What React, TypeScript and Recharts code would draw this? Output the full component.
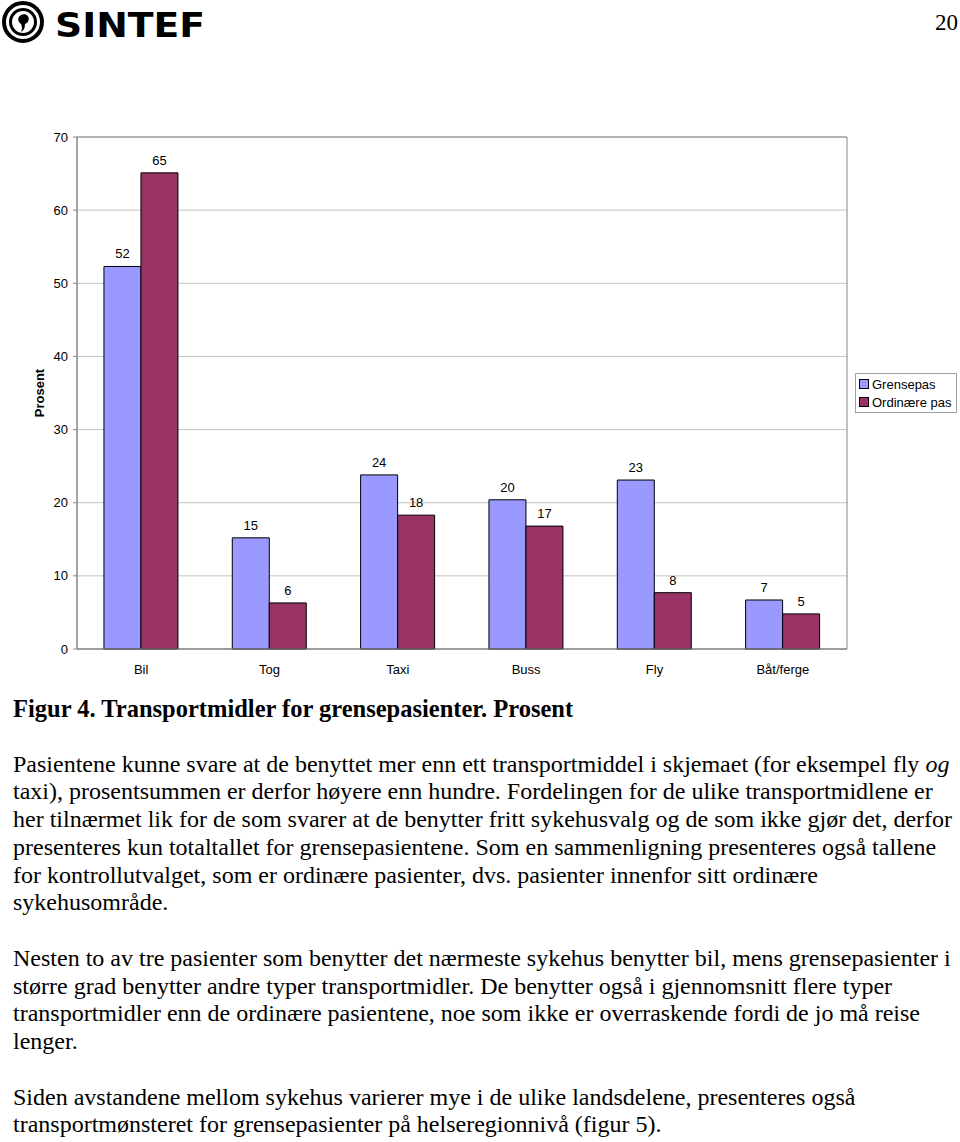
import { BarChart, Bar, XAxis, YAxis, CartesianGrid, LabelList, ReferenceArea } from 'recharts';

const categories = ['Bil', 'Tog', 'Taxi', 'Buss', 'Fly', 'Båt/ferge'];
const grensepas = [52.3, 15.2, 23.8, 20.4, 23.1, 6.7];
const ordinaerePas = [65.1, 6.3, 18.3, 16.8, 7.7, 4.8];
const yTicks = [0, 10, 20, 30, 40, 50, 60, 70];

const data = categories.map((name, i) => ({
  name,
  grensepas: grensepas[i],
  ordinaere: ordinaerePas[i],
}));

const BLUE = '#9999ff';
const MAROON = '#993366';
const AXIS = '#868686';
const sans = '"Liberation Sans", Arial, sans-serif';
const serif = '"Liberation Serif", "Times New Roman", serif';

const bodyLines = [
  { text: 'Figur 4. Transportmidler for grensepasienter. Prosent', bold: true },
  { text: '' },
  { text: 'Pasientene kunne svare at de benyttet mer enn ett transportmiddel i skjemaet (for eksempel fly ', italicTail: 'og' },
  { text: 'taxi), prosentsummen er derfor høyere enn hundre. Fordelingen for de ulike transportmidlene er' },
  { text: 'her tilnærmet lik for de som svarer at de benytter fritt sykehusvalg og de som ikke gjør det, derfor' },
  { text: 'presenteres kun totaltallet for grensepasientene. Som en sammenligning presenteres også tallene' },
  { text: 'for kontrollutvalget, som er ordinære pasienter, dvs. pasienter innenfor sitt ordinære' },
  { text: 'sykehusområde.' },
  { text: '' },
  { text: 'Nesten to av tre pasienter som benytter det nærmeste sykehus benytter bil, mens grensepasienter i' },
  { text: 'større grad benytter andre typer transportmidler. De benytter også i gjennomsnitt flere typer' },
  { text: 'transportmidler enn de ordinære pasientene, noe som ikke er overraskende fordi de jo må reise' },
  { text: 'lenger.' },
  { text: '' },
  { text: 'Siden avstandene mellom sykehus varierer mye i de ulike landsdelene, presenteres også' },
  { text: 'transportmønsteret for grensepasienter på helseregionnivå (figur 5).' },
];

function Logo() {
  return (
    <svg width={210} height={46} style={{ position: 'absolute', left: 0, top: 0 }}>
      <circle cx={23} cy={22} r={19} fill="none" stroke="#000" strokeWidth={4} />
      <circle cx={23} cy={22} r={12.5} fill="none" stroke="#000" strokeWidth={3} />
      <path d="M21 15 a5 5 0 1 1 4 9 q0 6 -4 8 q2 -4 0 -8 a5 5 0 0 1 0 -9 z" fill="#000" />
      <text x={55} y={37} fontFamily='"DejaVu Sans", sans-serif' fontWeight={900} fontSize={34} textLength={150} lengthAdjust="spacingAndGlyphs">
        SINTEF
      </text>
    </svg>
  );
}

function LegendBox() {
  const items = [
    { label: 'Grensepas', color: BLUE },
    { label: 'Ordinære pas', color: MAROON },
  ];
  return (
    <div style={{ boxSizing: 'border-box', width: 102, border: '1px solid #a0a0a0', background: '#fff', padding: '1px 3px', fontFamily: sans, fontSize: 13, whiteSpace: 'nowrap' }}>
      {items.map((it) => (
        <div key={it.label} style={{ display: 'flex', alignItems: 'center', height: 18 }}>
          <span style={{ width: 8, height: 8, background: it.color, border: '1px solid #000', marginRight: 3, flexShrink: 0 }} />
          <span>{it.label}</span>
        </div>
      ))}
    </div>
  );
}

export default function App() {
  return (
    <div style={{ position: 'absolute', left: 0, top: 0, width: 960, height: 1142, background: '#fff', overflow: 'hidden' }}>
      <Logo />
      <div style={{ position: 'absolute', right: 2, top: 10, fontFamily: serif, fontSize: 23 }}>20</div>

      <div style={{ position: 'absolute', left: 0, top: 0 }}>
        <BarChart
          width={960}
          height={690}
          data={data}
          margin={{ top: 137, right: 113, bottom: 11, left: 0 }}
          barCategoryGap="21%"
          barGap={0}
        >
          <CartesianGrid vertical={false} stroke="#c4c4c4" />
          <ReferenceArea y1={0} y2={70} fill="none" stroke={AXIS} strokeWidth={1} ifOverflow="visible" />
          <XAxis
            dataKey="name"
            height={30}
            stroke={AXIS}
            tickLine={false}
            tickMargin={10}
            tick={{ fill: '#000', fontSize: 13, fontFamily: sans }}
          />
          <YAxis
            width={77}
            domain={[0, 70]}
            ticks={yTicks}
            interval={0}
            stroke={AXIS}
            tickSize={4}
            tickMargin={5}
            tick={{ fill: '#000', fontSize: 13, fontFamily: sans }}
            label={{ value: 'Prosent', angle: -90, position: 'center', dx: 1, style: { fontWeight: 'bold', fontSize: 13, fontFamily: sans, fill: '#000' } }}
          />
          <Bar dataKey="grensepas" name="Grensepas" fill={BLUE} stroke="#000" strokeWidth={1} isAnimationActive={false}>
            <LabelList dataKey="grensepas" position="top" offset={8} formatter={(v: number) => Math.round(v)} style={{ fontSize: 13, fontFamily: sans, fill: '#000' }} />
          </Bar>
          <Bar dataKey="ordinaere" name="Ordinære pas" fill={MAROON} stroke="#000" strokeWidth={1} isAnimationActive={false}>
            <LabelList dataKey="ordinaere" position="top" offset={8} formatter={(v: number) => Math.round(v)} style={{ fontSize: 13, fontFamily: sans, fill: '#000' }} />
          </Bar>
        </BarChart>
      </div>

      <div style={{ position: 'absolute', left: 855, top: 373 }}>
        <LegendBox />
      </div>

      <div style={{ position: 'absolute', left: 13, top: 695, fontFamily: serif, lineHeight: '27.75px', color: '#000' }}>
        {bodyLines.map((l, i) => (
          <div key={i} style={{ whiteSpace: 'nowrap', fontWeight: l.bold ? 'bold' : 'normal', height: 27.75, fontSize: l.bold ? 24.5 : 24 }}>
            {l.text}
            {l.italicTail ? <i>{l.italicTail}</i> : null}
          </div>
        ))}
      </div>
    </div>
  );
}
